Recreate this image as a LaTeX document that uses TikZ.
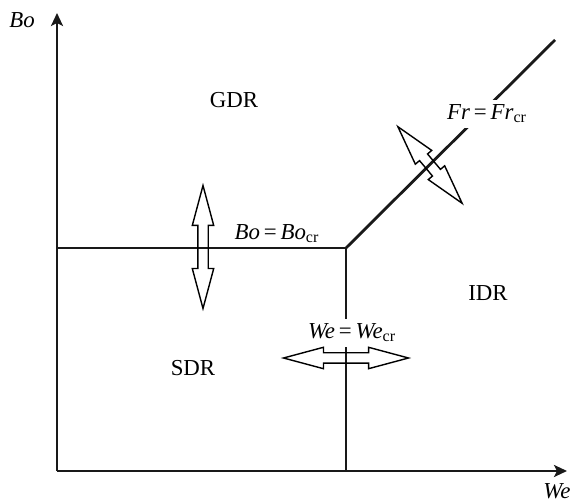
\documentclass[tikz,border=0pt]{standalone}
\usepackage{fontspec}
\setmainfont{Liberation Serif}
\usepackage{tikz}
\usetikzlibrary{arrows.meta,shapes.arrows}

\begin{document}
\begin{tikzpicture}[x=0.02cm, y=-0.02cm, font=\fontsize{13}{15}\selectfont, >=Stealth,
  ln/.style={line width=1.6pt, black!90},
  axis/.style={line width=1.6pt, black!90, -{Stealth[length=0.26cm, width=0.24cm, inset=0.06cm]}},
  lbl/.style={inner sep=1pt},
  cut/.style={fill=white, inner sep=3pt},
  swing/.style={double arrow, draw, line width=0.8pt, inner sep=0.09cm,
    minimum width=0.4cm, double arrow head extend=0.11cm,
    double arrow tip angle=30}]
\useasboundingbox (0,0) rectangle (571,502);
% ---- axes ----
\coordinate (orig) at (57,471);
\coordinate (ytop) at (57,13);
\coordinate (xend) at (567,471);
\draw[axis] (orig) -- (ytop);
\draw[axis] (orig) -- (xend);
\node[lbl] (bo) at (22,20) {\textit{Bo}};
\node[lbl] (we) at (557,491) {\textit{We}};

% ---- regime boundaries ----
\coordinate (tri) at (346,248);
\coordinate (bleft) at (57,248);
\coordinate (bbot) at (346,471);
\coordinate (btop) at (555,40);
\draw[ln] (bleft) -- (tri);
\draw[ln] (tri) -- (bbot);
\draw[ln] (tri) -- (btop);

% ---- labels ----
\node[lbl] (gdr) at (234,100) {GDR};
\node[lbl] (sdr) at (193,368) {SDR};
\node[lbl] (idr) at (488,293) {IDR};
\node[lbl] (bocr) at (277,234) {\textit{Bo}\,=\,\textit{Bo}\textsubscript{cr}};
\node[cut] (wecr) at (352,333) {\textit{We}\,=\,\textit{We}\textsubscript{cr}};
\node[cut] (frcr) at (487,114) {\textit{Fr}\,=\,\textit{Fr}\textsubscript{cr}};

% ---- transition arrows ----
\node[swing, minimum height=2.46cm, rotate=90] (sbo) at (203,247) {};
\node[swing, minimum height=2.5cm] (swe) at (346,358) {};
\node[swing, minimum height=2.0cm, rotate=-50] (sfr) at (430,165) {};
\end{tikzpicture}
\end{document}
